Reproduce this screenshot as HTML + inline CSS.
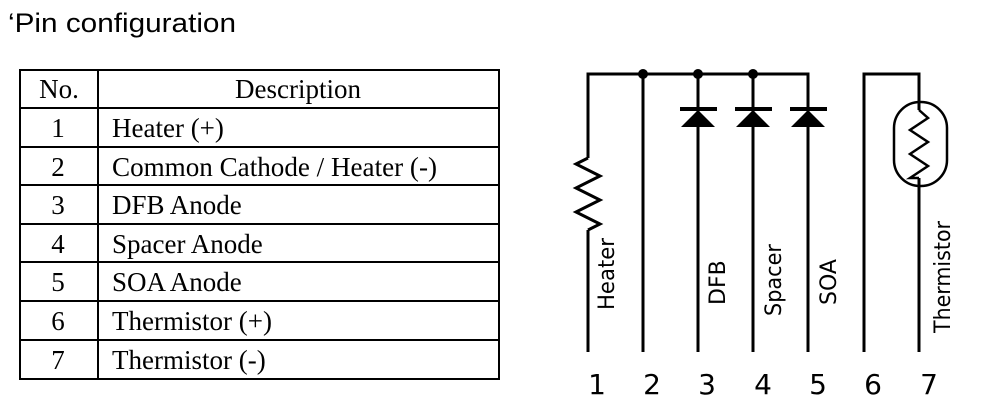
<!DOCTYPE html>
<html><head><meta charset="utf-8"><style>
html,body{margin:0;padding:0;background:#fff;}
svg{display:block}
</style></head><body>
<svg width="1003" height="415" viewBox="0 0 1003 415" xmlns="http://www.w3.org/2000/svg">
<text x="8" y="32" font-family="Liberation Sans, sans-serif" font-size="27" fill="#000" textLength="228" lengthAdjust="spacingAndGlyphs">‘Pin configuration</text>
<!-- table -->
<g stroke="#000" stroke-width="2" fill="none">
<rect x="20" y="70" width="479" height="309"/>
<line x1="98" y1="70" x2="98" y2="379"/>
<line x1="20" y1="108" x2="499" y2="108"/>
<line x1="20" y1="147" x2="499" y2="147"/>
<line x1="20" y1="185" x2="499" y2="185"/>
<line x1="20" y1="224" x2="499" y2="224"/>
<line x1="20" y1="262" x2="499" y2="262"/>
<line x1="20" y1="301" x2="499" y2="301"/>
<line x1="20" y1="340" x2="499" y2="340"/>
</g>
<g font-family="Liberation Serif, serif" font-size="27" fill="#000">
<text x="59" y="98" text-anchor="middle">No.</text>
<text x="298" y="98" text-anchor="middle">Description</text>
<g text-anchor="middle">
<text x="58" y="137">1</text><text x="58" y="176">2</text><text x="58" y="214">3</text>
<text x="58" y="253">4</text><text x="58" y="291">5</text><text x="58" y="330">6</text><text x="58" y="369">7</text>
</g>
<text x="112" y="137">Heater (+)</text>
<text x="112" y="176" textLength="325" lengthAdjust="spacingAndGlyphs">Common Cathode / Heater (-)</text>
<text x="112" y="214">DFB Anode</text>
<text x="112" y="253">Spacer Anode</text>
<text x="112" y="291">SOA Anode</text>
<text x="112" y="330">Thermistor (+)</text>
<text x="112" y="369">Thermistor (-)</text>
</g>
<!-- circuit -->
<g stroke="#000" stroke-width="3" fill="none" stroke-linejoin="miter">
<polyline points="588,352 588,230"/>
<polyline points="588,230 600,224 576,212 600,200 576,188 600,176 576,164 588,158"/>
<polyline points="588,158 588,74 808,74 808,352"/>
<line x1="643" y1="74" x2="643" y2="352"/>
<line x1="698" y1="74" x2="698" y2="352"/>
<line x1="753" y1="74" x2="753" y2="352"/>
<polyline points="864,352 864,74 919,74 919,110"/>
<line x1="919" y1="178" x2="919" y2="352"/>
</g>
<g stroke="#000" stroke-width="2.5" fill="none">
<polyline points="919,110 928,118 910,130 928,142 910,154 928,166 910,178 919,178"/>
<rect x="894" y="102" width="53" height="84" rx="26" ry="26"/>
</g>
<g fill="#000">
<circle cx="643" cy="74" r="5"/><circle cx="698" cy="74" r="5"/><circle cx="753" cy="74" r="5"/>
<rect x="680" y="107" width="37" height="4"/><polygon points="698,110 681,127 715,127"/>
<rect x="735" y="107" width="37" height="4"/><polygon points="753,110 736,127 770,127"/>
<rect x="790" y="107" width="37" height="4"/><polygon points="808,110 791,127 825,127"/>
</g>
<g font-family="DejaVu Sans, Liberation Sans, sans-serif" font-size="22" fill="#000">
<text transform="translate(614,310) rotate(-90)" textLength="72" lengthAdjust="spacingAndGlyphs">Heater</text>
<text transform="translate(725,305) rotate(-90)">DFB</text>
<text transform="translate(781,316) rotate(-90)" textLength="72" lengthAdjust="spacingAndGlyphs">Spacer</text>
<text transform="translate(836,305) rotate(-90)">SOA</text>
<text transform="translate(950,333) rotate(-90)" textLength="112" lengthAdjust="spacingAndGlyphs">Thermistor</text>
</g>
<g font-family="DejaVu Sans, Liberation Sans, sans-serif" font-size="28" fill="#000" text-anchor="middle">
<text x="597" y="394">1</text><text x="652" y="394">2</text><text x="707" y="394">3</text>
<text x="763" y="394">4</text><text x="818" y="394">5</text><text x="873" y="394">6</text><text x="929" y="394">7</text>
</g>
</svg>
</body></html>
